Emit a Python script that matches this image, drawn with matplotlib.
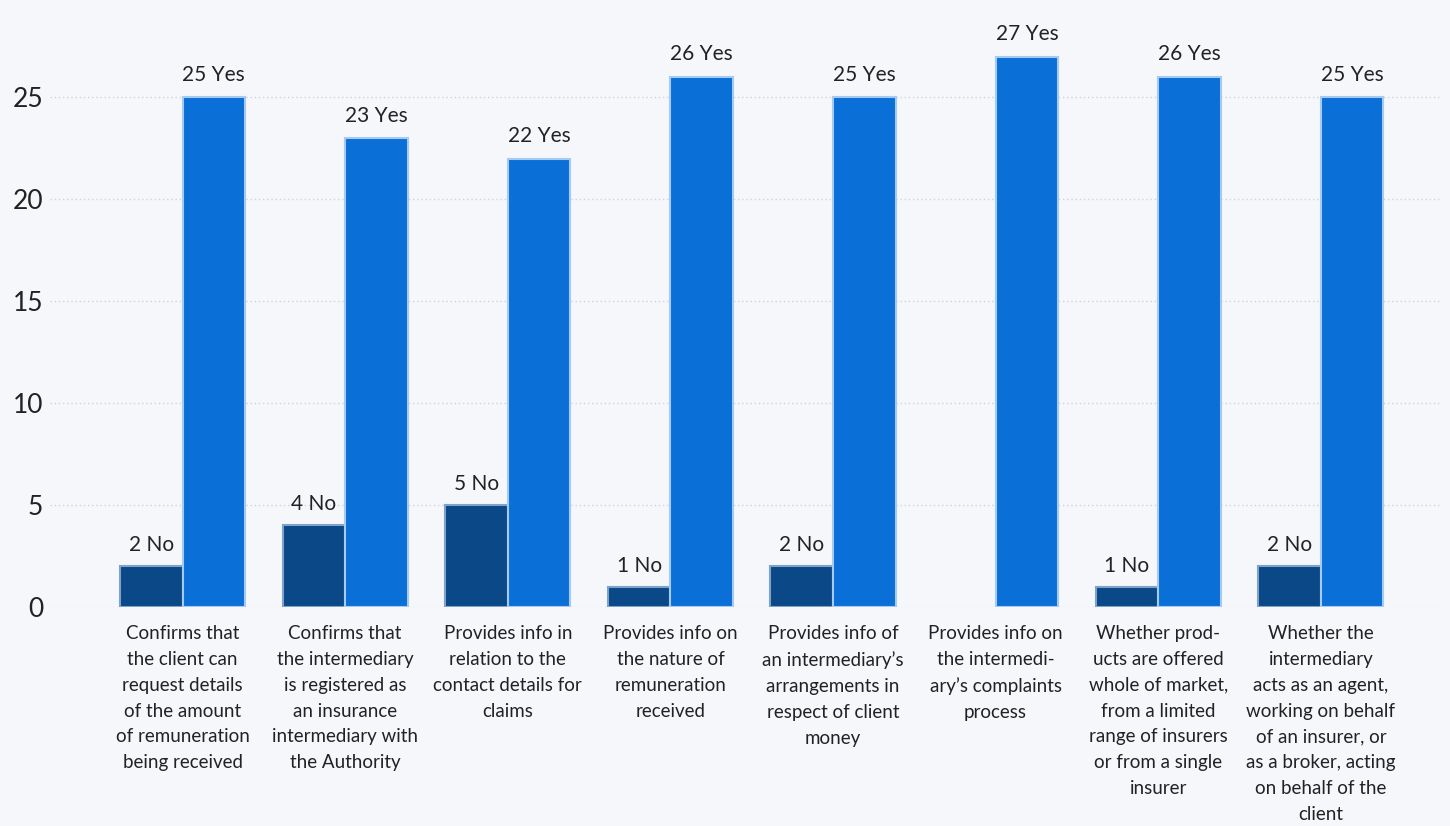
import numpy as np
from matplotlib import pyplot as plt

plt.rcParams['font.family'] = ['Lato', 'DejaVu Sans']

CATEGORIES = [
    "Confirms that\nthe client can\nrequest details\nof the amount\nof remuneration\nbeing received",
    "Confirms that\nthe intermediary\nis registered as\nan insurance\nintermediary with\nthe Authority",
    "Provides info in\nrelation to the\ncontact details for\nclaims",
    "Provides info on\nthe nature of\nremuneration\nreceived",
    "Provides info of\nan intermediary\u2019s\narrangements in\nrespect of client\nmoney",
    "Provides info on\nthe intermedi-\nary\u2019s complaints\nprocess",
    "Whether prod-\nucts are offered\nwhole of market,\nfrom a limited\nrange of insurers\nor from a single\ninsurer",
    "Whether the\nintermediary\nacts as an agent,\nworking on behalf\nof an insurer, or\nas a broker, acting\non behalf of the\nclient",
]
NO_VALUES = [2, 4, 5, 1, 2, 0, 1, 2]
YES_VALUES = [25, 23, 22, 26, 25, 27, 26, 25]
Y_TICKS = [0, 5, 10, 15, 20, 25]

NO_COLOR = "#0a4888"
YES_COLOR = "#0b6fd8"
BG = "#f5f7fa"
TEXT = "#222222"

W, H = 1450, 826
fig = plt.figure(figsize=(W / 100, H / 100), dpi=100, facecolor=BG)
# axes placed in pixel terms: left 50, right 1442, bottom at y=607, top at y=26
ax = fig.add_axes([50 / W, 1 - 607 / H, (1442 - 50) / W, (607 - 26) / H])
ax.set_facecolor(BG)

x = np.arange(len(CATEGORIES))
width = 0.385

bars_no = ax.bar(x - width / 2, NO_VALUES, width, color=NO_COLOR,
                 edgecolor="#7fa3c8", linewidth=1.5, zorder=3)
bars_yes = ax.bar(x + width / 2, YES_VALUES, width, color=YES_COLOR,
                  edgecolor="#a6cbf2", linewidth=1.5, zorder=3)

for rect, v in zip(bars_no, NO_VALUES):
    if v == 0:
        rect.set_visible(False)
        continue
    ax.annotate(f"{v} No", (rect.get_x() + rect.get_width() / 2, v),
                xytext=(0, 8), textcoords="offset points",
                ha="center", va="bottom", fontsize=15, color=TEXT)
for rect, v in zip(bars_yes, YES_VALUES):
    ax.annotate(f"{v} Yes", (rect.get_x() + rect.get_width() / 2, v),
                xytext=(0, 9), textcoords="offset points",
                ha="center", va="bottom", fontsize=15, color=TEXT)

ax.set_xlim(-0.815, 7.745)
ax.set_ylim(0, 28.5)
ax.set_yticks(Y_TICKS)
ax.set_yticklabels([str(t) for t in Y_TICKS], fontsize=19, color=TEXT)
ax.set_xticks(x)
ax.set_xticklabels(CATEGORIES, fontsize=13.5, color=TEXT, linespacing=1.63,
                   va="top", ha="center")
ax.tick_params(axis="both", length=0)
ax.tick_params(axis="x", pad=13)
ax.tick_params(axis="y", pad=5)

ax.yaxis.grid(True, linestyle=(0, (1, 2)), color="#cfd4da", linewidth=1, zorder=0)
ax.set_axisbelow(True)
for s in ax.spines.values():
    s.set_visible(False)

fig.savefig("out.png", dpi=100, facecolor=BG)
